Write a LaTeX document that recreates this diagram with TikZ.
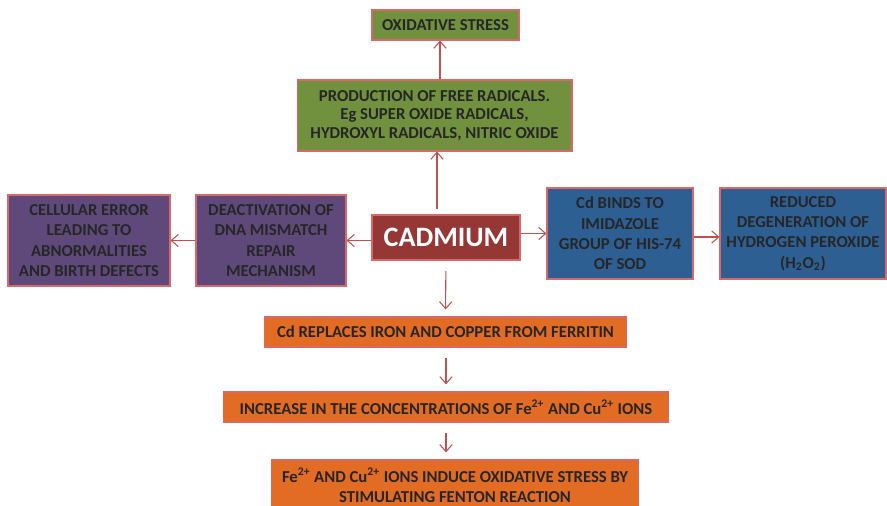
\documentclass[tikz,border=0pt]{standalone}
\usepackage{fontspec}
\setmainfont{Carlito}
\usepackage{xcolor}
\usetikzlibrary{arrows.meta,positioning}

\definecolor{cdred}{HTML}{953735}
\definecolor{olivebox}{HTML}{71913E}
\definecolor{plumbox}{HTML}{5F497A}
\definecolor{navybox}{HTML}{2E5F93}
\definecolor{rustbox}{HTML}{E36C25}
\definecolor{rimred}{HTML}{D8686A}
\definecolor{linkred}{HTML}{C0504D}
\definecolor{inkgrey}{HTML}{262626}

\begin{document}
\begin{tikzpicture}[->,>={Straight Barb[length=4pt,width=7pt]},x=0.02cm,y=-0.02cm,
			line width=0.6pt,draw=linkred]
			\tikzstyle{every node}=[inner sep=0pt,align=center,font=\bfseries\fontsize{9.5}{11.6}\selectfont,text=inkgrey]
			\tikzstyle{cause}=[draw=rimred,line width=0.6pt]
			\tikzstyle{gap}=[shorten <=6pt,shorten >=4pt]
			
			\useasboundingbox (0,0) rectangle (887,506);
			
			\node[cause, fill=cdred, text=white, minimum width=2.96cm, minimum height=0.9cm,
				font=\bfseries\fontsize{16}{19}\selectfont]    (cad) at (446,237.5)		{CADMIUM};
			
			\node[cause, fill=olivebox, minimum width=5.5cm, minimum height=1.42cm,
				font=\bfseries\fontsize{9.5}{10.6}\selectfont]    (prod) at (434.5,115.5)		{PRODUCTION OF FREE RADICALS.\\ Eg SUPER OXIDE RADICALS,\\ HYDROXYL RADICALS, NITRIC OXIDE};
			
			\node[cause, fill=olivebox, minimum width=2.94cm, minimum height=0.6cm]    (ox) at (445.5,25)		{OXIDATIVE STRESS};
			
			\node[cause, fill=plumbox, minimum width=3.0cm, minimum height=1.82cm]    (deact) at (271,240.5)		{DEACTIVATION OF\\ DNA MISMATCH\\ REPAIR\\ MECHANISM};
			
			\node[cause, fill=plumbox, minimum width=3.24cm, minimum height=1.82cm]    (cell) at (89,240.5)		{CELLULAR ERROR\\ LEADING TO\\ ABNORMALITIES\\ AND BIRTH DEFECTS};
			
			\node[cause, fill=navybox, minimum width=2.92cm, minimum height=1.82cm]    (binds) at (620,233.5)		{Cd BINDS TO\\ IMIDAZOLE\\ GROUP OF HIS-74\\ OF SOD};
			
			\node[cause, fill=navybox, minimum width=3.32cm, minimum height=1.82cm]    (perox) at (803,233.5)		{REDUCED\\ DEGENERATION OF\\ HYDROGEN PEROXIDE\\ (H\textsubscript{2}O\textsubscript{2})};
			
			\node[cause, fill=rustbox, minimum width=7.26cm, minimum height=0.6cm]    (ferr) at (445.5,332)		{Cd REPLACES IRON AND COPPER FROM FERRITIN};
			
			\node[cause, fill=rustbox, minimum width=8.92cm, minimum height=0.6cm]    (ions) at (446,407)		{INCREASE IN THE CONCENTRATIONS OF Fe\textsuperscript{2+} AND Cu\textsuperscript{2+} IONS};
			
			\node[cause, fill=rustbox, minimum width=7.36cm, minimum height=1.02cm]    (fenton) at (455,485.5)		{Fe\textsuperscript{2+} AND Cu\textsuperscript{2+} IONS INDUCE OXIDATIVE STRESS BY\\ STIMULATING FENTON REACTION};
			
			\coordinate (oxfoot) at (440,0);
			
			\path
			
			(cad.north -| 437,0) edge[shorten <=3pt] (prod.south -| 437,0)
			
			(prod.north -| oxfoot) edge (ox.south -| oxfoot)
			
			(cad.west |- deact) edge (deact)
			
			(deact) edge (cell)
			
			(cad.east |- binds) edge (binds)
			
			(binds.east |- 0,237) edge (perox.west |- 0,237)
			
			(cad) edge[gap] (ferr)
			
			(ferr.south -| ions) edge[gap] (ions)
			
			(ions.south) edge[gap] (ions.south |- fenton.north);
			\end{tikzpicture}
\end{document}
